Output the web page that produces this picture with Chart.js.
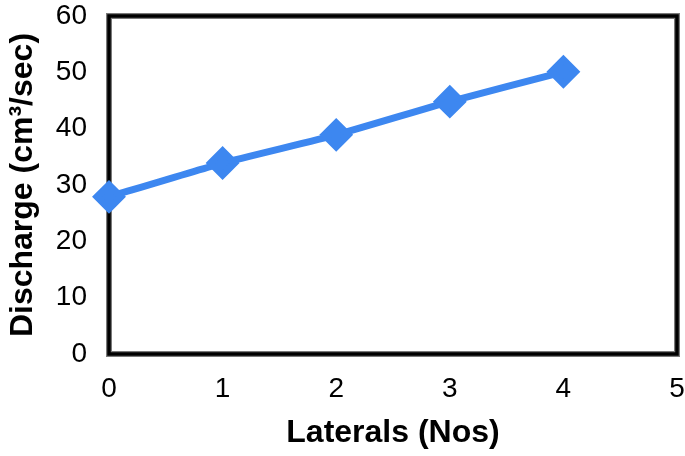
<!DOCTYPE html>
<html>
<head>
<meta charset="utf-8">
<script src="https://cdn.jsdelivr.net/npm/chart.js@4/dist/chart.umd.min.js"></script>
<style>
  html, body { margin: 0; padding: 0; background: #fff; }
  #wrap { width: 685px; height: 456px; }
</style>
</head>
<body>
<div id="wrap"><canvas id="canvas" width="685" height="456"></canvas></div>
<script>
const LATERALS = [0, 1, 2, 3, 4];
const DISCHARGE = [27.9, 33.9, 38.9, 44.8, 50.1];
const X_TICKS = [0, 1, 2, 3, 4, 5];
const Y_TICKS = [0, 10, 20, 30, 40, 50, 60];
const FONT = "'Liberation Sans', Arial, sans-serif";

// box round the plot area
const frame = {
    id: 'frame',
    beforeDatasetsDraw(chart) {
        const a = chart.chartArea;
        const c = chart.ctx;
        c.save();
        c.strokeStyle = '#7a7a7a';
        c.lineWidth = 6;
        c.strokeRect(a.left, a.top, a.right - a.left, a.bottom - a.top);
        c.strokeStyle = '#000';
        c.lineWidth = 3.5;
        c.strokeRect(a.left, a.top, a.right - a.left, a.bottom - a.top);
        c.restore();
    }
};

var points = LATERALS.map(function (x, i) { return { x: x, y: DISCHARGE[i] }; });

new Chart(document.getElementById('canvas').getContext('2d'), {
    type: 'scatter',
    data: {
        datasets: [{
            data: points,
            showLine: true,
            borderColor: '#3d87f0',
            backgroundColor: '#3d87f0',
            borderWidth: 7,
            tension: 0.15,
            pointStyle: 'rectRot',
            pointRadius: 12,
            pointHoverRadius: 12,
            clip: false
        }]
    },
    options: {
        responsive: false,
        animation: false,
        layout: { autoPadding: false, padding: { top: 16, right: 8, left: 0, bottom: 0 } },
        plugins: { legend: { display: false }, tooltip: { enabled: false } },
        scales: {
            x: {
                type: 'linear',
                min: 0, max: 5,
                afterBuildTicks: function (s) { s.ticks = X_TICKS.map(function (v) { return { value: v }; }); },
                grid: { display: false, drawTicks: false },
                border: { display: false },
                ticks: { color: '#000', padding: 18, font: { family: FONT, size: 28 } },
                title: { display: true, text: 'Laterals (Nos)', color: '#000', padding: { top: 8 },
                         font: { family: FONT, size: 32, weight: 'bold' } },
                afterFit: function (s) { s.height = 102; s.paddingLeft = 0; s.paddingRight = 0; }
            },
            y: {
                min: 0, max: 60,
                afterBuildTicks: function (s) { s.ticks = Y_TICKS.map(function (v) { return { value: v }; }); },
                grid: { display: false, drawTicks: false },
                border: { display: false },
                ticks: { color: '#000', padding: 22, font: { family: FONT, size: 28 } },
                title: { display: true, text: 'Discharge (cm³/sec)', color: '#000', padding: { bottom: 0 },
                         font: { family: FONT, size: 32, weight: 'bold' } },
                afterFit: function (s) { s.width = 109; s.paddingTop = 0; s.paddingBottom = 0; }
            }
        }
    },
    plugins: [frame]
});
</script>
</body>
</html>
